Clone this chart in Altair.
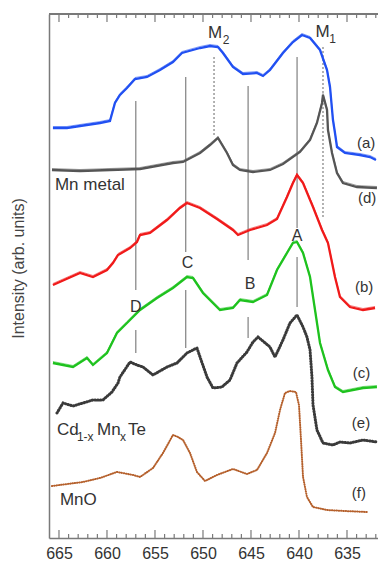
import altair as alt
import pandas as pd

# ---- Spectra (photon energy in eV, intensity in arbitrary, vertically offset units) ----
energy_a = [665.63, 664.17, 662.81, 660.73, 659.69, 659.17, 658.65, 657.92, 657.08, 655.83,
            654.48, 653.13, 652.19, 650.31, 649.27, 648.44, 647.92, 646.88, 645.83, 644.38,
            643.75, 643.02, 641.67, 640.63, 639.69, 638.85, 637.81, 637.08, 636.77, 636.46,
            636.25, 636.04, 635.21, 633.65, 632.60, 631.98]
inten_a = [410, 410, 412, 415, 417, 435, 443, 450, 459, 461,
           468, 476, 485, 490, 492, 491, 485, 471, 464, 465,
           462, 468, 485, 496, 503, 500, 488, 468, 451, 418,
           405, 391, 385, 383, 381, 378]

energy_d = [665.73, 662.81, 659.69, 656.56, 653.13, 652.08, 650.31, 649.27, 648.44, 647.50,
            646.88, 646.15, 644.79, 643.02, 641.67, 639.90, 638.85, 638.13, 637.60, 637.50,
            637.08, 636.98, 636.56, 636.04, 635.42, 633.96, 631.88]
inten_d = [368, 367, 368, 369, 375, 376, 385, 393, 400, 385,
           373, 368, 366, 368, 374, 386, 398, 415, 435, 443,
           428, 408, 385, 365, 355, 351, 350]

energy_b = [665.63, 662.81, 661.46, 660.00, 659.38, 658.85, 657.60, 656.88, 656.56, 655.52,
            653.75, 652.40, 651.67, 650.31, 648.54, 646.88, 646.35, 645.10, 643.33, 642.29,
            641.25, 640.63, 640.21, 639.58, 638.54, 637.60, 636.98, 636.25, 635.73, 634.69,
            633.33, 632.08]
inten_b = [253, 265, 261, 268, 275, 283, 290, 296, 303, 305,
           318, 330, 335, 330, 319, 308, 303, 308, 313, 319,
           341, 355, 363, 355, 331, 308, 295, 261, 241, 231,
           228, 230]

energy_c = [665.63, 663.54, 662.08, 661.46, 660.00, 658.96, 657.92, 656.56, 654.79, 653.13,
            651.67, 651.04, 650.00, 648.23, 646.88, 646.15, 644.79, 643.33, 642.29, 641.25,
            640.63, 640.21, 639.58, 638.85, 638.33, 637.81, 636.98, 636.25, 635.42, 633.33,
            631.88]
inten_c = [175, 171, 180, 173, 185, 205, 215, 228, 240, 250,
           261, 260, 245, 228, 230, 238, 236, 243, 268, 285,
           295, 296, 285, 261, 228, 195, 168, 151, 146, 150,
           151]

energy_e = [665.21, 664.58, 663.54, 662.50, 661.46, 660.42, 659.48, 658.85, 658.65, 657.60,
            656.88, 656.25, 655.21, 653.75, 652.71, 651.67, 650.63, 650.31, 649.58, 648.96,
            648.02, 647.19, 646.46, 645.42, 644.79, 644.27, 643.02, 642.50, 641.67, 640.94,
            640.21, 639.58, 639.17, 638.85, 638.65, 638.54, 638.13, 637.50, 636.46, 635.73,
            634.69, 633.33, 631.88]
inten_e = [125, 135, 132, 135, 138, 138, 146, 155, 161, 176,
           173, 171, 163, 171, 175, 185, 190, 181, 161, 150,
           151, 158, 175, 186, 196, 201, 191, 181, 198, 215,
           223, 211, 201, 188, 161, 133, 108, 95, 93, 96,
           95, 98, 96]

energy_f = [665.73, 662.50, 660.73, 658.96, 657.29, 656.56, 655.21, 654.17, 653.13, 652.60,
            652.08, 651.35, 650.63, 649.79, 648.54, 646.88, 645.42, 644.38, 643.33, 642.50,
            641.98, 641.46, 640.94, 640.31, 640.00, 639.79, 639.58, 639.17, 638.54, 637.08,
            635.21, 632.92]
inten_f = [52, 56, 60, 66, 63, 61, 70, 85, 103, 101,
           98, 85, 66, 57, 63, 69, 64, 68, 85, 105,
           128, 145, 147, 146, 133, 98, 61, 41, 31, 28,
           27, 26]

# ---- Reference energies marked with vertical lines ----
feature_names = ["A", "B", "C", "D"]
feature_energy = [640.2, 645.3, 651.8, 657.0]
# upper and lower segments of each feature line (intensity limits)
feature_upper = [(481, 310), (452, 278), (461, 286), (437, 248)]
feature_lower = [(281, 231), (221, 200), (248, 190), (208, 185)]
metal_names = ["M2", "M1"]
metal_energy = [648.85, 637.5]
metal_span = [(481, 403), (491, 320)]

tick_values = [665, 660, 655, 650, 645, 640, 635]
minor_ticks = list(range(632, 666))

W, H = 329, 524
FONT = "Liberation Sans"
TXT = "#333333"
FRAME = "#7a7a7a"

xscale = alt.Scale(domain=[666.04, 631.77], nice=False, zero=False)
yscale = alt.Scale(domain=[0, 524], nice=False, zero=False)

x_axis = alt.Axis(values=tick_values, format="d", ticks=False, tickSize=0, grid=False,
                  domainColor=FRAME, domainWidth=1.5, labelFont=FONT, labelFontSize=16,
                  labelColor=TXT, labelPadding=7, title=None)
y_axis = alt.Axis(labels=False, ticks=False, tickSize=0, grid=False, domainColor=FRAME,
                  domainWidth=1.5, title="Intensity (arb. units)", titleFont=FONT,
                  titleFontSize=16, titleFontWeight="normal", titleColor="#444444",
                  titleX=-31, titleY=254, titleAlign="center", titleBaseline="middle",
                  titleAngle=270)


def X(field="energy"):
    return alt.X(f"{field}:Q", scale=xscale, axis=x_axis)


def Y(field="intensity"):
    return alt.Y(f"{field}:Q", scale=yscale, axis=y_axis)


spectra = []
for name, e, v in [("a", energy_a, inten_a), ("d", energy_d, inten_d),
                   ("b", energy_b, inten_b), ("c", energy_c, inten_c),
                   ("e", energy_e, inten_e), ("f", energy_f, inten_f)]:
    spectra.append(pd.DataFrame({"energy": e, "intensity": v, "spectrum": name}))
spec_df = pd.concat(spectra, ignore_index=True)

solid_df = spec_df[spec_df.spectrum.isin(["a", "b", "c", "d"])]
colors = alt.Scale(domain=["a", "d", "b", "c"],
                   range=["#2150f2", "#555555", "#f01a1a", "#1ec21e"])

# feature lines
seg_rows = []
for n, en, up, lo in zip(feature_names, feature_energy, feature_upper, feature_lower):
    seg_rows.append({"energy": en, "intensity": up[0], "y2": up[1]})
    seg_rows.append({"energy": en, "intensity": lo[0], "y2": lo[1]})
seg_df = pd.DataFrame(seg_rows)
metal_df = pd.DataFrame({"energy": metal_energy,
                         "intensity": [s[0] for s in metal_span],
                         "y2": [s[1] for s in metal_span]})

feature_layer = alt.Chart(seg_df).mark_rule(color="#8a8a8a", strokeWidth=1.3).encode(
    x=X(), y=Y(), y2="y2:Q")
metal_layer = alt.Chart(metal_df).mark_rule(color="#8a8a8a", strokeWidth=1.3,
                                            strokeDash=[2, 2]).encode(
    x=X(), y=Y(), y2="y2:Q")

# tick marks on bottom and top edges, pointing inward
tick_df = pd.DataFrame({"energy": minor_ticks,
                        "major": [t % 5 == 0 for t in minor_ticks]})


def tick_layer(major, top):
    ln = 8 if major else 4
    y0, y1 = (0, ln) if top else (H, H - ln)
    return alt.Chart(tick_df[tick_df.major == major]).mark_rule(
        color=FRAME, strokeWidth=1.2).encode(
        x=X(), y=alt.value(y0), y2=alt.value(y1))


ticks = [tick_layer(m, t) for m in (True, False) for t in (True, False)]
top_line = alt.Chart(tick_df).mark_rule(color=FRAME, strokeWidth=1.5).encode(
    x=alt.value(0), x2=alt.value(W), y=alt.value(0))

# measured spectra: thin raw trace under a thicker smoothed trace
raw = alt.Chart(solid_df).mark_line(strokeWidth=1, opacity=0.55, yOffset=-1.5).encode(
    x=X(), y=Y(),
    color=alt.Color("spectrum:N", scale=colors, legend=None),
    detail="spectrum:N",
)
smooth = alt.Chart(solid_df).mark_line(strokeWidth=2.3).encode(
    x=X(), y=Y(),
    color=alt.Color("spectrum:N", scale=colors, legend=None),
    detail="spectrum:N",
)
cdmnte = alt.Chart(spec_df[spec_df.spectrum == "e"]).mark_line(
    color="#3a3a3a", strokeWidth=3, strokeDash=[0.6, 2.2], strokeCap="round").encode(
    x=X(), y=Y())
mno = alt.Chart(spec_df[spec_df.spectrum == "f"]).mark_line(
    color="#b5602c", strokeWidth=2, strokeDash=[0.5, 1.8], strokeCap="round").encode(
    x=X(), y=Y())


# ---- text annotations ----
def text_layer(rows, size, align):
    df = pd.DataFrame(rows, columns=["energy", "intensity", "label"])
    return alt.Chart(df).mark_text(font=FONT, fontSize=size, align=align,
                                   baseline="middle", color=TXT).encode(
        x=X(), y=Y(), text="label:N")


letters = text_layer([(640.2, 302, "A"), (645.1, 254, "B"), (651.6, 275, "C"),
                      (657.0, 231, "D")], 16, "center")
metal_labels = text_layer([(648.75, 505, "M"), (637.55, 506, "M")], 17, "center")
metal_subs = text_layer([(647.6, 498, "2"), (636.5, 499, "1")], 12, "center")
curve_tags = text_layer([(633.96, 395, "(a)"), (633.85, 340, "(d)"), (634.17, 251, "(b)"),
                         (634.4, 165, "(c)"), (634.5, 115, "(e)"), (634.5, 45, "(f)")],
                        15, "left")
names = text_layer([(665.42, 353, "Mn metal"), (664.9, 38, "MnO"),
                    (665.21, 108, "Cd"), (661.04, 108, "Mn"), (657.81, 108, "Te")],
                   17, "left")
name_subs = text_layer([(663.13, 101, "1-x"), (658.65, 101, "x")], 12, "left")

chart = alt.layer(
    feature_layer, metal_layer, *ticks, top_line,
    raw, smooth, cdmnte, mno,
    letters, metal_labels, metal_subs, curve_tags, names, name_subs,
).properties(
    width=W, height=H,
    padding={"left": 49, "top": 14, "right": 0, "bottom": 27},
    autosize=alt.AutoSizeParams(type="none"),
    background="white",
).configure_view(stroke=None)

chart.save("out.html", embed_options={"renderer": "svg", "actions": False})
